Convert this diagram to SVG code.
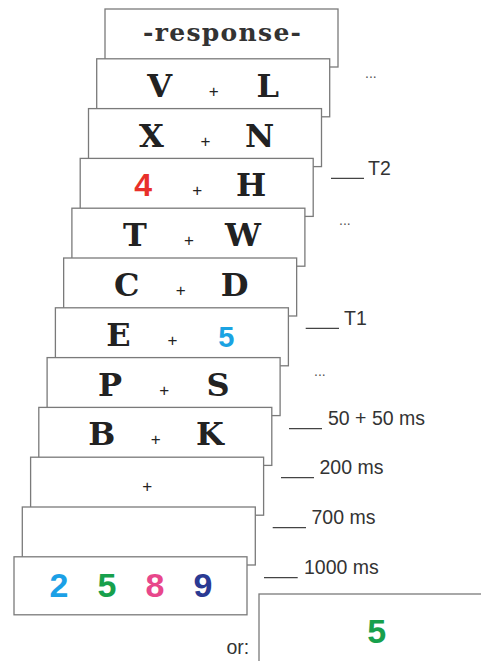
<svg xmlns="http://www.w3.org/2000/svg" width="481" height="661" viewBox="0 0 481 661">
<style>
.card{fill:#fff;stroke:#7a7a7a;stroke-width:1.3}
.let{font-family:"DejaVu Serif","Liberation Serif",serif;font-weight:bold;font-size:32px;fill:#222;text-anchor:middle}
.resp{font-family:"DejaVu Serif","Liberation Serif",serif;font-weight:bold;font-size:25px;fill:#333}
.plus{font-family:"Liberation Sans",Arial,sans-serif;font-size:17px;fill:#222;text-anchor:middle}
.dig{font-family:"Liberation Sans",Arial,sans-serif;font-weight:bold;font-size:34px;text-anchor:middle}
.lab{font-family:"Liberation Sans",Arial,sans-serif;font-size:19.5px;fill:#333}
.dots{font-family:"Liberation Sans",Arial,sans-serif;font-size:14px;fill:#555}
.tick{stroke:#444;stroke-width:1.3}
</style>
<rect width="481" height="661" fill="#fff"/>
<g id="card-response" transform="translate(105,9)"><rect class="card" width="233" height="58"/><text class="resp" x="38" y="32" textLength="158" lengthAdjust="spacing">-response-</text></g>
<g id="card-VL" transform="translate(96.7,58.8)"><rect class="card" width="233" height="58"/><text class="let" x="63" y="38">V</text><text class="plus" x="117" y="38">+</text><text class="let" x="171" y="38">L</text></g>
<g id="card-XN" transform="translate(88.5,108.6)"><rect class="card" width="233" height="58"/><text class="let" x="63" y="38">X</text><text class="plus" x="117" y="38">+</text><text class="let" x="171" y="38">N</text></g>
<g id="card-4H" transform="translate(80.2,158.4)"><rect class="card" width="233" height="58"/><text class="dig" x="63" y="38" style="fill:#e8302a;font-size:32px">4</text><text class="plus" x="117" y="38">+</text><text class="let" x="171" y="38">H</text></g>
<g id="card-TW" transform="translate(71.9,208.2)"><rect class="card" width="233" height="58"/><text class="let" x="63" y="38">T</text><text class="plus" x="117" y="38">+</text><text class="let" x="171" y="38">W</text></g>
<g id="card-CD" transform="translate(63.65,258)"><rect class="card" width="233" height="58"/><text class="let" x="63" y="38">C</text><text class="plus" x="117" y="38">+</text><text class="let" x="171" y="38">D</text></g>
<g id="card-E5" transform="translate(55.4,307.8)"><rect class="card" width="233" height="58"/><text class="let" x="63" y="38">E</text><text class="plus" x="117" y="38">+</text><text class="dig" x="171" y="39" style="fill:#1ba3e2;font-size:29px">5</text></g>
<g id="card-PS" transform="translate(47.1,357.6)"><rect class="card" width="233" height="58"/><text class="let" x="63" y="38">P</text><text class="plus" x="117" y="38">+</text><text class="let" x="171" y="38">S</text></g>
<g id="card-BK" transform="translate(38.8,407.4)"><rect class="card" width="233" height="58"/><text class="let" x="63" y="38">B</text><text class="plus" x="117" y="38">+</text><text class="let" x="171" y="38">K</text></g>
<g id="card-fix" transform="translate(30.6,457.2)"><rect class="card" width="233" height="58"/><text class="plus" x="116.5" y="35">+</text></g>
<g id="card-blank" transform="translate(22.3,507)"><rect class="card" width="233" height="58"/></g>
<g id="card-digits" transform="translate(14,556.8)"><rect class="card" width="233" height="58"/>
<text class="dig" x="45" y="40.5" style="fill:#1ba0e6">2</text>
<text class="dig" x="93" y="40.5" style="fill:#17a04c">5</text>
<text class="dig" x="141" y="40.5" style="fill:#e8478b">8</text>
<text class="dig" x="189" y="40.5" style="fill:#2b3a93">9</text></g>
<g id="card-or"><rect class="card" x="259" y="594" width="240" height="80"/><text class="dig" x="376.7" y="642.7" style="fill:#17a04c">5</text></g>
<g id="connectors">
<line class="tick" x1="331" y1="178.3" x2="364" y2="178.3"/>
<line class="tick" x1="305.7" y1="328.3" x2="339" y2="328.3"/>
<line class="tick" x1="289" y1="428.7" x2="322" y2="428.7"/>
<line class="tick" x1="281" y1="477.7" x2="314" y2="477.7"/>
<line class="tick" x1="272.7" y1="527.7" x2="306" y2="527.7"/>
<line class="tick" x1="264" y1="577.7" x2="297.7" y2="577.7"/>
</g>
<g id="labels">
<text class="dots" x="365" y="78">...</text>
<text class="dots" x="339" y="225">...</text>
<text class="dots" x="314" y="376">...</text>
<text class="lab" x="368" y="175">T2</text>
<text class="lab" x="344" y="325">T1</text>
<text class="lab" x="328" y="425">50 + 50 ms</text>
<text class="lab" x="319.5" y="474.3">200 ms</text>
<text class="lab" x="311.5" y="524">700 ms</text>
<text class="lab" x="304" y="574">1000 ms</text>
<text class="lab" x="226.5" y="654">or:</text>
</g>
</svg>
